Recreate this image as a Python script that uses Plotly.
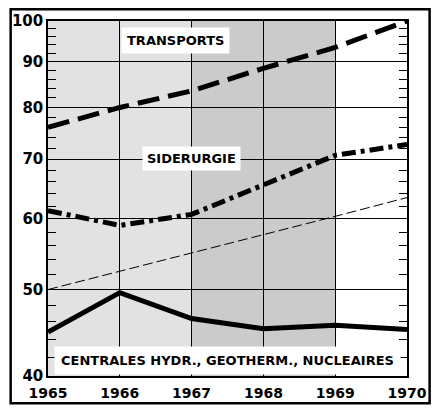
import math
import plotly.graph_objects as go

years = [1965, 1966, 1967, 1968, 1969, 1970]
transports = [76.0, 80.0, 83.5, 88.5, 93.4, 100.0]
siderurgie = [61.3, 59.0, 60.7, 65.5, 70.7, 72.7]
tendance = [50.0, 52.4, 55.0, 57.6, 60.4, 63.4]
centrales = [44.8, 49.6, 46.4, 45.2, 45.6, 45.1]

y_ticks = [40, 50, 60, 70, 80, 90, 100]
y_minor = [42, 44, 46, 48, 52, 54, 56, 58, 62, 64, 66, 68, 72, 74, 76, 78, 82, 84, 86, 88, 92, 94, 96, 98]
x_ticks = years

FONT = "DejaVu Sans"
L = math.log10

fig = go.Figure()

fig.add_trace(go.Scatter(x=years, y=transports, mode="lines",
                         line=dict(color="black", width=5, dash="22px,9px")))
fig.add_trace(go.Scatter(x=years, y=siderurgie, mode="lines",
                         line=dict(color="black", width=5, dash="14px,5px,4px,5px")))
fig.add_trace(go.Scatter(x=years, y=tendance, mode="lines",
                         line=dict(color="black", width=1, dash="10px,4px")))
fig.add_trace(go.Scatter(x=years, y=centrales, mode="lines",
                         line=dict(color="black", width=5)))

shapes = [
    dict(type="rect", xref="x", yref="paper", x0=1965, x1=1967, y0=0, y1=1,
         fillcolor="#e2e2e2", line=dict(width=0), layer="below"),
    dict(type="rect", xref="x", yref="paper", x0=1967, x1=1969, y0=0, y1=1,
         fillcolor="#cbcbcb", line=dict(width=0), layer="below"),
    # leader lines
    dict(type="line", xref="x", yref="y", x0=1966.9, y0=L(92.0), x1=1967.0, y1=L(84.3),
         line=dict(color="black", width=1)),
    dict(type="line", xref="x", yref="y", x0=1966.97, y0=L(67.5), x1=1967.0, y1=L(62.6),
         line=dict(color="black", width=1)),
    dict(type="line", xref="x", yref="y", x0=1966.0, y0=L(45.6), x1=1965.9, y1=L(43.4),
         line=dict(color="white", width=2)),
    # outer frame
    dict(type="rect", xref="paper", yref="paper", x0=-0.104, x1=1.063, y0=-0.077, y1=1.033,
         line=dict(color="black", width=2.5), layer="above"),
]
fig.update_layout(shapes=shapes)

ann_font = dict(family=FONT, size=13, color="black")
fig.add_annotation(x=1966.78, y=L(95.0), text="<b>TRANSPORTS</b>", showarrow=False,
                   font=ann_font, bgcolor="white", borderpad=5)
fig.add_annotation(x=1967.0, y=L(70.1), text="<b>SIDERURGIE</b>", showarrow=False,
                   font=ann_font, bgcolor="white", borderpad=4)
fig.add_annotation(x=1967.5, y=L(41.6), text="<b>CENTRALES HYDR., GEOTHERM., NUCLEAIRES</b>",
                   showarrow=False, font=dict(family=FONT, size=13, color="black"),
                   bgcolor="white", borderpad=6)

fig.update_xaxes(range=[1965, 1970], tickvals=x_ticks, ticktext=[f"<b>{y}</b>" for y in x_ticks],
                 showgrid=True, gridcolor="black", gridwidth=1, zeroline=False,
                 showline=True, linecolor="black", linewidth=1.5, mirror=True,
                 ticks="", ticklabeloverflow="allow", ticklabelstandoff=3,
                 tickfont=dict(family=FONT, size=14, color="black"))
fig.update_yaxes(type="log", range=[L(40), 2.0], tickvals=y_ticks,
                 ticktext=[f"<b>{v}</b>" for v in y_ticks],
                 showgrid=True, gridcolor="black", gridwidth=1, zeroline=False,
                 showline=True, linecolor="black", linewidth=1.5, mirror="ticks",
                 ticks="inside", ticklen=8, tickcolor="black",
                 minor=dict(tickvals=y_minor, ticks="inside", ticklen=8, tickcolor="black", showgrid=False),
                 tickfont=dict(family=FONT, size=15, color="black"))

fig.update_layout(width=439, height=413, margin=dict(l=45, r=29, t=20, b=31),
                  plot_bgcolor="white", paper_bgcolor="white", showlegend=False)

fig.write_html("out.html", config={"displayModeBar": False},
               post_script="document.body.style.margin='0';document.body.style.overflow='hidden';")
